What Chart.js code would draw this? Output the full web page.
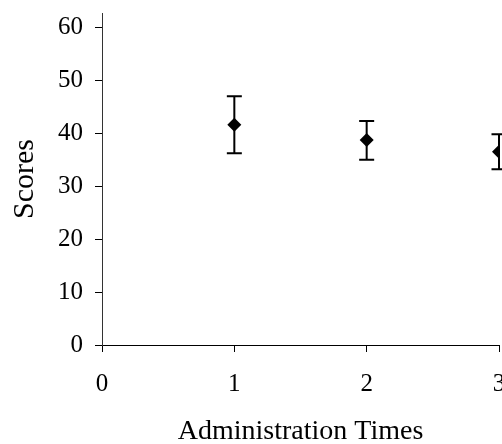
<!DOCTYPE html>
<html>
<head>
<meta charset="utf-8">
<script src="https://cdn.jsdelivr.net/npm/chart.js@4.4.1/dist/chart.umd.min.js"></script>
<style>
  html, body { margin: 0; padding: 0; background: #fff; overflow: hidden; width: 502px; height: 444px; }
  #wrap { width: 520px; height: 444px; }
</style>
</head>
<body>
<div id="wrap"><canvas id="c" width="506" height="444"></canvas></div>
<script>
const times = [1, 2, 3];
const means = [41.6, 38.7, 36.5];
const upper = [47.0, 42.3, 39.8];
const lower = [36.2, 35.0, 33.2];
const yTicks = [0, 10, 20, 30, 40, 50, 60];
const xTicks = [0, 1, 2, 3];
const xTitle = 'Administration Times';
const yTitle = 'Scores';

const FONT = "'Liberation Serif', 'Times New Roman', serif";

const errorBars = {
  id: 'errorBars',
  beforeDatasetsDraw(chart) {
    const ctx = chart.ctx;
    const xs = chart.scales.x, ys = chart.scales.y;
    ctx.save();
    ctx.strokeStyle = '#000';
    ctx.lineWidth = 2;
    for (let i = 0; i < times.length; i++) {
      const x = xs.getPixelForValue(times[i]);
      const yt = ys.getPixelForValue(upper[i]);
      const yb = ys.getPixelForValue(lower[i]);
      ctx.beginPath();
      ctx.moveTo(x, yt); ctx.lineTo(x, yb);
      ctx.moveTo(x - 7.5, yt); ctx.lineTo(x + 7.5, yt);
      ctx.moveTo(x - 7.5, yb); ctx.lineTo(x + 7.5, yb);
      ctx.stroke();
    }
    ctx.restore();
  }
};

new Chart(document.getElementById('c'), {
  type: 'scatter',
  data: {
    datasets: [{
      data: times.map((t, i) => ({ x: t, y: means[i] })),
      pointStyle: 'rectRot',
      pointRadius: 7,
      pointHoverRadius: 7,
      backgroundColor: '#000',
      borderColor: '#000',
      borderWidth: 0,
      showLine: false
    }]
  },
  options: {
    responsive: false,
    animation: false,
    layout: { padding: { left: 0, right: 3, top: 13, bottom: 0 } },
    plugins: { legend: { display: false }, tooltip: { enabled: false } },
    scales: {
      x: {
        type: 'linear',
        min: 0, max: 3,
        afterBuildTicks: s => { s.ticks = xTicks.map(v => ({ value: v })); },
        afterFit: s => { s.height = 99; s.paddingLeft = 0; s.paddingRight = 0; },
        ticks: { color: '#000', font: { family: FONT, size: 25 }, padding: 17, maxRotation: 0 },
        grid: { drawOnChartArea: false, drawTicks: true, tickLength: 7, color: '#000' },
        border: { display: true, color: '#000', width: 1 },
        title: { display: true, text: xTitle, color: '#000', font: { family: FONT, size: 28, lineHeight: 0.9 }, padding: { top: 0, bottom: 0 } }
      },
      y: {
        type: 'linear',
        min: 0, max: 62.7,
        afterBuildTicks: s => { s.ticks = yTicks.map(v => ({ value: v })); },
        afterFit: s => { s.width = 102; s.paddingTop = 0; s.paddingBottom = 0; },
        ticks: { color: '#000', font: { family: FONT, size: 25 }, padding: 12 },
        grid: { drawOnChartArea: false, drawTicks: true, tickLength: 7, color: '#000' },
        border: { display: true, color: '#333', width: 1 },
        title: { display: true, text: yTitle, color: '#000', font: { family: FONT, size: 30 }, padding: { top: 7, bottom: 0 } }
      }
    }
  },
  plugins: [errorBars]
});
</script>
</body>
</html>
